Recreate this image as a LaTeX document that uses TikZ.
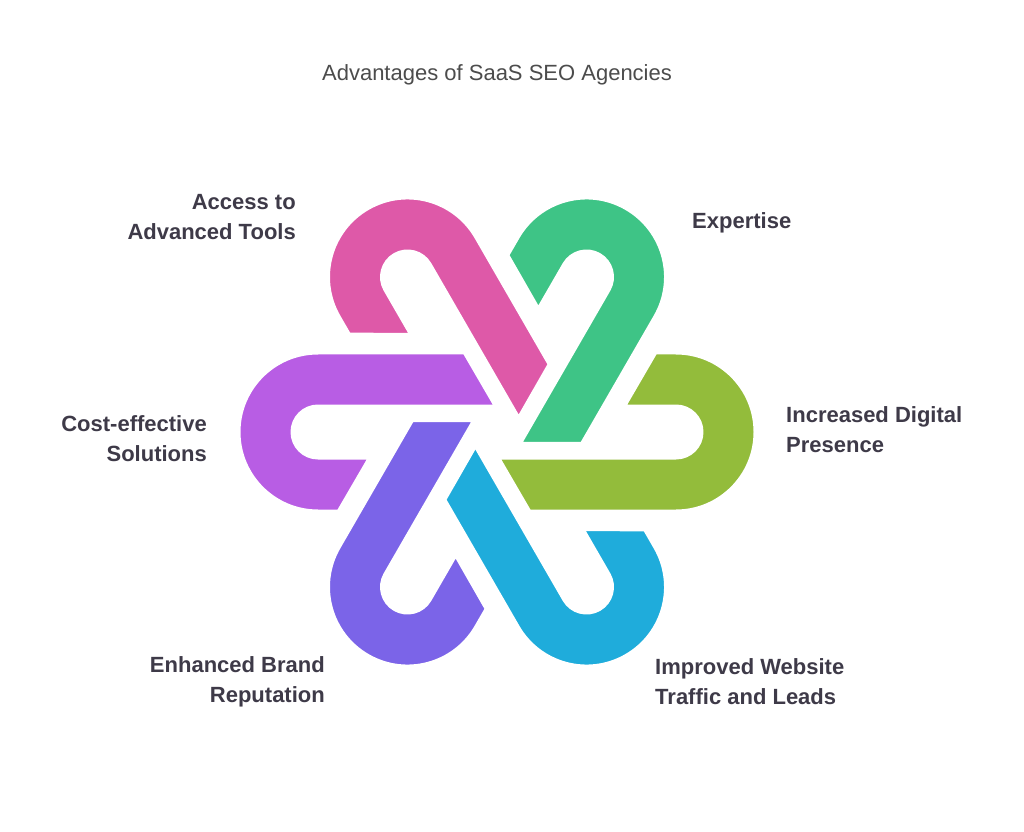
\documentclass[tikz,border=0pt]{standalone}
\usepackage{fontspec}
\setmainfont{Liberation Sans}
\definecolor{cpink}{HTML}{DE59A8}
\definecolor{cgreen}{HTML}{3EC486}
\definecolor{colive}{HTML}{93BC3B}
\definecolor{cblue}{HTML}{1FACDB}
\definecolor{cviolet}{HTML}{7B64E8}
\definecolor{cpurple}{HTML}{B85DE4}
\definecolor{ctext}{HTML}{3E3A48}
\begin{document}
\begin{tikzpicture}[x=1pt, y=1pt]
    \tikzstyle{label} = [font=\fontsize{22}{30}\selectfont\bfseries, text=ctext, align=left, anchor=west, inner sep=0pt]
    \tikzstyle{rlabel} = [label, align=right, anchor=east]
    \tikzstyle{hook} = [draw=white, line width=5pt, line join=round]
    \useasboundingbox [fill=white] (0,0) rectangle (1024,831);

    \node [font=\fontsize{22}{24}\selectfont, text=black!70] (title) at (497,756) {Advantages of SaaS SEO Agencies};

    % six interlocking hooks, rotated around the centre
    \foreach \ang/\col in {180/cpurple, 120/cpink, 60/cgreen, 0/colive, -60/cblue, -120/cviolet} {
        \begin{scope}[shift={(497,399)}, rotate=\ang]
            \filldraw [hook, fill=\col] (32,-80) -- (179,-80) arc (-90:90:80) -- (158,80) -- (126,25)
                -- (179,25) arc (90:-90:25) -- (0,-25) -- cycle;
        \end{scope}
    }

    \node [rlabel] (tools) at (296,614) {Access to\\Advanced Tools};
    \node [label] (expert) at (692,608) {Expertise};
    \node [label] (digital) at (786,401) {Increased Digital\\Presence};
    \node [label] (traffic) at (655,149) {Improved Website\\Traffic and Leads};
    \node [rlabel] (brand) at (325,149) {Enhanced Brand\\Reputation};
    \node [rlabel] (cost) at (207,392) {Cost-effective\\Solutions};
\end{tikzpicture}
\end{document}
